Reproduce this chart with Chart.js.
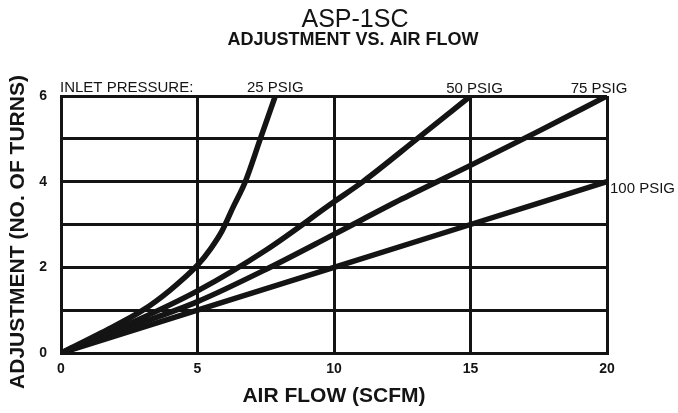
<!DOCTYPE html>
<html>
<head>
<meta charset="utf-8">
<script src="https://cdn.jsdelivr.net/npm/chart.js@4.4.1/dist/chart.umd.min.js"></script>
<style>
  html, body { margin: 0; padding: 0; background: #fff; }
  #wrap { width: 678px; height: 413px; }
</style>
</head>
<body>
<div id="wrap"><canvas id="chart" width="678" height="413"></canvas></div>
<script>
// Air flow (SCFM) vs adjustment (turns), one pair per inlet pressure
const flow25 = [0, 1.5, 3, 4, 5, 5.5, 5.9, 6.3, 6.75, 7.3, 7.85];
const turns25 = [0, 0.48, 1.0, 1.47, 2.05, 2.45, 2.85, 3.4, 4.0, 5.0, 6.0];

const flow50 = [0, 2.5, 5, 7.5, 10, 11.06, 13.04, 15];
const turns50 = [0, 0.68, 1.45, 2.4, 3.53, 4.0, 5.0, 6.0];

const flow75 = [0, 2.5, 5, 7.5, 10, 12.5, 15, 17.5, 20];
const turns75 = [0, 0.6, 1.2, 1.95, 2.77, 3.6, 4.38, 5.18, 6.0];

const flow100 = [0, 5, 10, 15, 20];
const turns100 = [0, 1, 2, 3, 4];

const seriesLabels = ['25 PSIG', '50 PSIG', '75 PSIG', '100 PSIG'];
const xTicks = [0, 5, 10, 15, 20];
const yTicks = [0, 2, 4, 6];

const INK = '#141414';
const FONT = '"Liberation Sans", Arial, sans-serif';

function toPoints(xs, ys) {
  return xs.map((x, i) => ({ x: x, y: ys[i] }));
}

function series(label, xs, ys) {
  return {
    label: label,
    data: toPoints(xs, ys),
    borderColor: INK,
    borderWidth: 5.5,
    pointRadius: 0,
    fill: false,
    cubicInterpolationMode: 'monotone',
    borderCapStyle: 'round',
    borderJoinStyle: 'round'
  };
}

// Titles, y axis title and the pressure labels at the end of each curve
const annotations = {
  id: 'annotations',
  afterDraw(chart) {
    const ctx = chart.ctx;
    const xs = chart.scales.x;
    const ys = chart.scales.y;
    ctx.save();
    ctx.fillStyle = INK;
    ctx.textBaseline = 'alphabetic';

    ctx.textAlign = 'center';
    ctx.font = '25px ' + FONT;
    ctx.fillText('ASP-1SC', 355, 27);
    ctx.font = 'bold 18px ' + FONT;
    ctx.fillText('ADJUSTMENT VS. AIR FLOW', 353, 45);

    // y axis title, rotated
    ctx.save();
    ctx.translate(18, 232);
    ctx.rotate(-Math.PI / 2);
    ctx.textBaseline = 'middle';
    ctx.font = 'bold 21px ' + FONT;
    ctx.fillText('ADJUSTMENT (NO. OF TURNS)', 0, 0);
    ctx.restore();

    ctx.font = '15px ' + FONT;
    ctx.textAlign = 'left';
    ctx.fillText('INLET PRESSURE:', 60, 92);

    const ends = [
      [flow25, turns25, 0, -4, 'center'],
      [flow50, turns50, 4, -3, 'center'],
      [flow75, turns75, -8, -3, 'center'],
      [flow100, turns100, 3, 11, 'left']
    ];
    ends.forEach((e, i) => {
      const px = xs.getPixelForValue(e[0].at(-1)) + e[2];
      const py = ys.getPixelForValue(e[1].at(-1)) + e[3];
      ctx.textAlign = e[4];
      ctx.fillText(seriesLabels[i], px, py);
    });
    ctx.restore();
  }
};

new Chart(document.getElementById('chart'), {
  type: 'line',
  data: {
    datasets: [
      series(seriesLabels[0], flow25, turns25),
      series(seriesLabels[1], flow50, turns50),
      series(seriesLabels[2], flow75, turns75),
      series(seriesLabels[3], flow100, turns100)
    ]
  },
  options: {
    responsive: false,
    animation: false,
    layout: { padding: { left: 0, top: 96, right: 71, bottom: 0 } },
    plugins: {
      legend: { display: false },
      tooltip: { enabled: false },
      title: { display: false }
    },
    scales: {
      x: {
        type: 'linear',
        min: 0,
        max: 20,
        afterFit: (scale) => { scale.height = 60; },
        afterBuildTicks: (scale) => { scale.ticks = xTicks.map(v => ({ value: v })); },
        ticks: {
          color: INK,
          padding: 8,
          font: { family: FONT, size: 14, weight: 'bold' }
        },
        grid: { color: INK, lineWidth: 3, drawTicks: false },
        border: { color: INK, width: 3 },
        title: {
          display: true,
          text: 'AIR FLOW (SCFM)',
          color: INK,
          padding: { bottom: 4 },
          font: { family: FONT, size: 21, weight: 'bold' }
        }
      },
      y: {
        type: 'linear',
        min: 0,
        max: 6,
        afterFit: (scale) => { scale.width = 61; },
        ticks: {
          stepSize: 1,
          color: INK,
          padding: 14,
          font: { family: FONT, size: 14, weight: 'bold' },
          callback: (v) => yTicks.includes(v) ? v : ''
        },
        grid: { color: INK, lineWidth: 3, drawTicks: false },
        border: { color: INK, width: 3 },
        title: { display: false }
      }
    }
  },
  plugins: [annotations]
});
</script>
</body>
</html>
